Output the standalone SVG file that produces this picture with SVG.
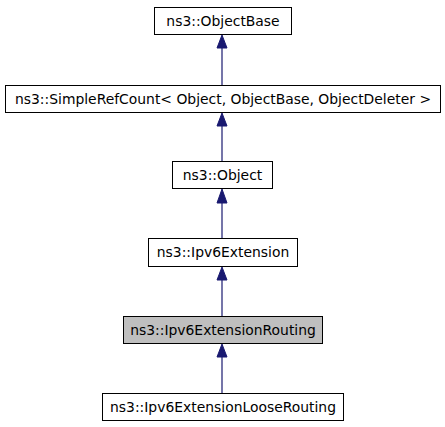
<svg xmlns="http://www.w3.org/2000/svg" width="445" height="427" viewBox="0 0 445 427">
<style>
.box{fill:#ffffff;stroke:#000000;stroke-width:1}
.cur{fill:#bfbfbf;stroke:#000000;stroke-width:1}
.lbl{font-family:"DejaVu Sans",sans-serif;font-size:13.9px;fill:#000000;text-anchor:middle}
.edge{stroke:#191970;stroke-width:1.2;fill:none}
.head{fill:#191970;stroke:#191970;stroke-width:1}
</style>
<rect width="445" height="427" fill="#ffffff"/>
<g id="connectors">
<line class="edge" x1="222" y1="48" x2="222" y2="85"/>
<polygon class="head" points="222,35 217,48 227,48"/>
<line class="edge" x1="222" y1="126" x2="222" y2="161"/>
<polygon class="head" points="222,113 217,126 227,126"/>
<line class="edge" x1="222" y1="203" x2="222" y2="238"/>
<polygon class="head" points="222,189 217,203 227,203"/>
<line class="edge" x1="222" y1="280" x2="222" y2="316"/>
<polygon class="head" points="222,267 217,280 227,280"/>
<line class="edge" x1="222" y1="357" x2="222" y2="393"/>
<polygon class="head" points="222,344 217,357 227,357"/>
</g>
<g id="ObjectBase">
<rect class="box" x="154.5" y="7.5" width="137" height="27"/>
<text class="lbl" x="223" y="26">ns3::ObjectBase</text>
</g>
<g id="SimpleRefCount">
<rect class="box" x="5.5" y="85.5" width="435" height="27"/>
<text class="lbl" x="223" y="104">ns3::SimpleRefCount&lt; Object, ObjectBase, ObjectDeleter &gt;</text>
</g>
<g id="Object">
<rect class="box" x="172.5" y="161.5" width="100" height="27"/>
<text class="lbl" x="222.5" y="180">ns3::Object</text>
</g>
<g id="Ipv6Extension">
<rect class="box" x="148.5" y="238.5" width="149" height="28"/>
<text class="lbl" x="223" y="257">ns3::Ipv6Extension</text>
</g>
<g id="Ipv6ExtensionRouting">
<rect class="cur" x="123.5" y="316.5" width="199" height="27"/>
<text class="lbl" x="223" y="335">ns3::Ipv6ExtensionRouting</text>
</g>
<g id="Ipv6ExtensionLooseRouting">
<rect class="box" x="102.5" y="393.5" width="241" height="27"/>
<text class="lbl" x="223" y="412">ns3::Ipv6ExtensionLooseRouting</text>
</g>
</svg>
